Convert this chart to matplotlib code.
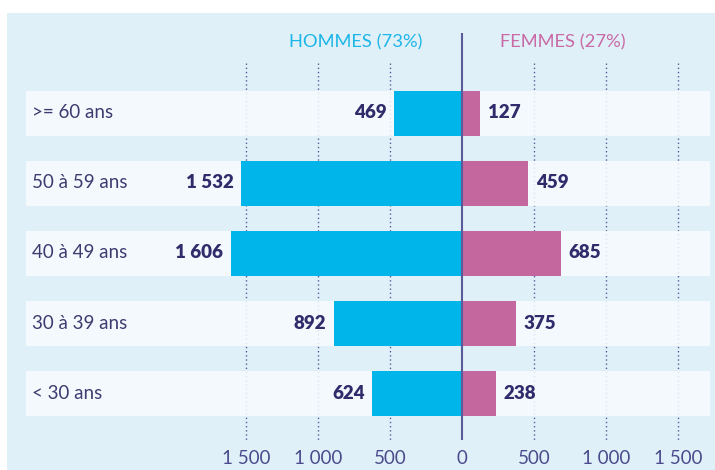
import matplotlib
matplotlib.use("Agg")
import matplotlib.pyplot as plt
from matplotlib.patches import Rectangle
import matplotlib.transforms as mtransforms

# ---- data ----
categories = [">= 60 ans", "50 à 59 ans", "40 à 49 ans", "30 à 39 ans", "< 30 ans"]
hommes = [469, 1532, 1606, 892, 624]
femmes = [127, 459, 685, 375, 238]
tick_values = [-1500, -1000, -500, 0, 500, 1000, 1500]
tick_labels = ["1 500", "1 000", "500", "0", "500", "1 000", "1 500"]
header_h = "HOMMES (73%)"
header_f = "FEMMES (27%)"

# ---- style ----
C_H = "#00B5EA"
C_F = "#C4679F"
C_PANEL = "#DFF0F8"
C_BAND = "#F7FBFD"
C_TXT = "#2E2C6B"
C_CAT = "#3C3C70"
C_TICK = "#4B4B8C"
C_LINE = "#5B5B9A"
FONT = "Lato"
FS = 13.5

W, H = 715, 470
fig = plt.figure(figsize=(W / 100, H / 100), dpi=100)
fig.patch.set_facecolor("white")

ax = fig.add_axes([0, 0, 1, 1])
ax.set_facecolor("none")
for s in ax.spines.values():
    s.set_visible(False)
ax.set_xticks([])
ax.set_yticks([])

# light-blue panel
ax.add_patch(Rectangle((7 / W, 0), (W - 7) / W, (H - 13) / H,
                       transform=ax.transAxes, facecolor=C_PANEL,
                       edgecolor="none", zorder=0))

# pixel mapping: zero at x=462, 500 units = 72 px ; row i centre at y = 113 + 70 i
x0, scale = 462.0, 72.0 / 500.0
ax.set_xlim(-x0 / scale, (W - x0) / scale)
ax.set_ylim((H - 113) / 70.0, (0 - 113) / 70.0)

n = len(categories)
ypos = list(range(n))
bh = 45 / 70.0

# dotted grid lines
grid_vals = [v for v in tick_values if v != 0]
ax.vlines(grid_vals, (63 - 113) / 70.0, (440 - 113) / 70.0, colors=C_LINE,
          linestyles=(0, (1, 2)), linewidth=1, zorder=1)

# row bands
for y in ypos:
    ax.axhspan(y - bh / 2, y + bh / 2, xmin=26 / W, xmax=710 / W,
               facecolor=C_BAND, alpha=0.85, edgecolor="none", zorder=2)

# bars
ax.barh(ypos, [-v for v in hommes], height=bh, color=C_H, zorder=3, linewidth=0)
ax.barh(ypos, femmes, height=bh, color=C_F, zorder=3, linewidth=0)

# centre line
ax.vlines([0], (33 - 113) / 70.0, (440 - 113) / 70.0, colors=C_LINE,
          linewidth=1.5, zorder=4)

def fmt(v):
    return f"{v:,}".replace(",", " ")

# value labels
for y, h, f in zip(ypos, hommes, femmes):
    ax.annotate(fmt(h), (-h, y), xytext=(-5.5, 0), textcoords="offset points",
                ha="right", va="center", fontsize=FS, fontweight="heavy",
                color=C_TXT, family=FONT, zorder=5)
    ax.annotate(fmt(f), (f, y), xytext=(5.5, 0), textcoords="offset points",
                ha="left", va="center", fontsize=FS, fontweight="heavy",
                color=C_TXT, family=FONT, zorder=5)

# category labels
trans_cat = mtransforms.blended_transform_factory(ax.transAxes, ax.transData)
for y, c in zip(ypos, categories):
    ax.text(32 / W, y, c, transform=trans_cat, ha="left", va="center",
            fontsize=FS, color=C_CAT, family=FONT, zorder=5)

# tick labels at bottom
trans_tick = mtransforms.blended_transform_factory(ax.transData, ax.transAxes)
for v, lab in zip(tick_values, tick_labels):
    ax.text(v, 1 - 459 / H, lab, transform=trans_tick, ha="center", va="center",
            fontsize=FS, color=C_TICK, family=FONT, zorder=5)

# headers
ax.text(422 / W, 1 - 42 / H, header_h, transform=ax.transAxes, ha="right",
        va="center", fontsize=13.2, color="#1DB6E8", family=FONT)
ax.text(500 / W, 1 - 42 / H, header_f, transform=ax.transAxes, ha="left",
        va="center", fontsize=13.2, color="#C96AA6", family=FONT)

fig.savefig("out.png", dpi=100, facecolor=fig.get_facecolor())
